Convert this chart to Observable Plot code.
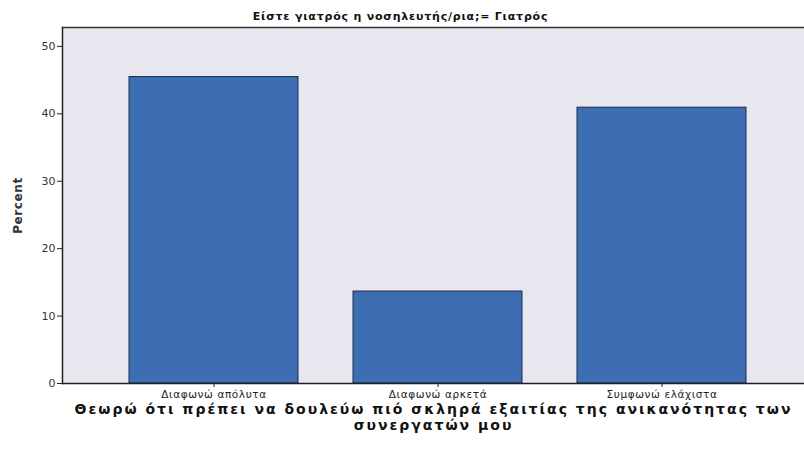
<!DOCTYPE html>
<html><head><meta charset="utf-8">
<script src="https://cdn.jsdelivr.net/npm/d3@7"></script>
<script src="https://cdn.jsdelivr.net/npm/@observablehq/plot@0.6"></script>
<style>body{margin:0;background:#fff}</style>
</head><body><div id="chart"></div>
<script>
const categories = ["Διαφωνώ απόλυτα", "Διαφωνώ αρκετά", "Συμφωνώ ελάχιστα"];
const percents = [45.45, 13.64, 40.91];
const yTicks = [0, 10, 20, 30, 40, 50];
const title = "Είστε γιατρός η νοσηλευτής/ρια;= Γιατρός";
const xLabel = "Θεωρώ ότι πρέπει να δουλεύω πιό σκληρά εξαιτίας της ανικανότητας των\nσυνεργατών μου";
const yLabel = "Percent";

const data = categories.map((c, i) => ({category: c, value: percents[i]}));
const font = "'DejaVu Sans', sans-serif";

const chart = Plot.plot({
  width: 804, height: 454,
  marginTop: 27, marginLeft: 62, marginRight: 0, marginBottom: 71,
  style: {fontFamily: font, background: "#fff"},
  x: {domain: categories, range: [128, 748], paddingInner: 0.244, paddingOuter: 0, label: null},
  y: {domain: [0, 52.8], label: null},
  marks: [
    Plot.frame({fill: "#e7e8ef", stroke: null}),
    Plot.barY(data, {x: "category", y: "value", fill: "#3d6db3", stroke: "#1e2a44", strokeWidth: 1}),
    Plot.frame({anchor: "left", stroke: "#222", strokeWidth: 1.5}),
    Plot.frame({anchor: "top", stroke: "#333", strokeWidth: 1.5}),
    Plot.frame({anchor: "bottom", stroke: "#222", strokeWidth: 1.5}),
    Plot.axisY({ticks: yTicks, tickSize: 5, tickPadding: 2, fontSize: 11, fill: "#333", stroke: "#222", label: null}),
    Plot.axisX({tickSize: 4, tickPadding: 3, fontSize: 10.5, fill: "#222", stroke: "#222", label: null}),
    Plot.text([title], {frameAnchor: "top", dx: -33, dy: -15, fontSize: 11, fontWeight: "bold", fill: "#111"}),
    Plot.text([yLabel], {frameAnchor: "left", textAnchor: "middle", dx: -44, rotate: -90, fontSize: 12, fontWeight: "bold", fill: "#333"}),
    Plot.text([xLabel], {frameAnchor: "bottom", lineAnchor: "top", dy: 20, fontSize: 14, fontWeight: "bold", fill: "#111", lineHeight: 1.1})
  ]
});
// letter spacing to mimic the wide original typeface
const spacing = new Map([[title, "0.8px"], [yLabel, "0.6px"]]);
categories.forEach(c => spacing.set(c, "0.6px"));
d3.select(chart).selectAll("text").each(function() {
  const t = this.textContent;
  if (spacing.has(t)) this.style.letterSpacing = spacing.get(t);
  if (t.startsWith("Θεωρώ") || t.startsWith("συνεργατών")) this.style.letterSpacing = "2px";
});
d3.select(chart).selectAll("tspan").each(function() {
  const t = this.textContent;
  if (t.startsWith("Θεωρώ") || t.startsWith("συνεργατών")) this.style.letterSpacing = "2px";
});
document.getElementById("chart").appendChild(chart);
</script></body></html>
